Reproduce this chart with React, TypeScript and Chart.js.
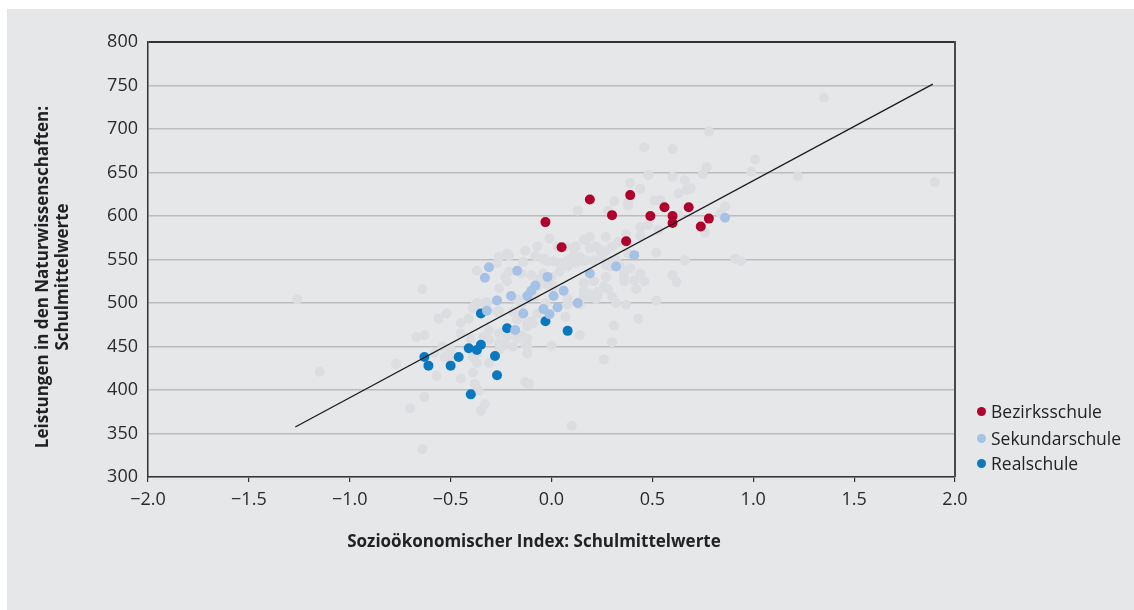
import React, { useEffect, useRef } from "react";
import { Chart, registerables } from "chart.js";

Chart.register(...registerables);

// Axis ranges and tick steps
const xRange = [-2, 2];
const yRange = [300, 800];
const xStep = 0.5;
const yStep = 50;

// Regression line end points
const lineX = [-1.27, 1.89];
const lineY = [357.5, 751.5];

// Bezirksschule
const bezirkX = [-0.03, 0.05, 0.19, 0.3, 0.39, 0.37, 0.49, 0.56, 0.6, 0.6, 0.68, 0.74, 0.78];
const bezirkY = [593, 564, 619, 601, 624, 571, 600, 610, 600, 592, 610, 588, 597];

// Sekundarschule
const sekX = [-0.31, -0.33, -0.17, -0.2, -0.27, -0.12, -0.1, -0.08, -0.02, 0.01, -0.04, -0.01, -0.14, -0.18, 0.03, 0.06, 0.13, 0.19, 0.32, 0.41, 0.86, -0.32];
const sekY = [541, 529, 537, 508, 503, 508, 514, 520, 530, 508, 493, 487, 488, 469, 495, 514, 500, 534, 542, 555, 598, 491];

// Realschule
const realX = [-0.35, -0.22, -0.03, 0.08, -0.63, -0.61, -0.5, -0.46, -0.41, -0.37, -0.35, -0.28, -0.27, -0.4];
const realY = [488, 471, 479, 468, 438, 428, 428, 438, 448, 446, 452, 439, 417, 395];

// All other schools
const otherX = [
  -1.26, -1.15, -0.77, -0.7, -0.63, -0.64, -0.64, -0.67, -0.63, -0.57, -0.45, -0.39, -0.38, -0.36, -0.33, -0.35,
  -0.13, -0.11, 0.1, 0.0, 0.14, 0.26, 0.3, 0.31, 0.43, 0.52, 0.37, 0.42, 0.46, 0.6, 0.62, 0.66, 0.52, 0.91, 0.94,
  0.86, 0.84, 0.76, 0.53, 0.48, 0.44, 0.37, 0.33, 0.27, 0.19, 0.16, 0.13, 0.28, 0.31, 0.38, 0.38, 0.51, 0.54, 0.63,
  0.39, 0.44, 0.48, 0.6, 0.66, 0.63, 0.67, 0.69, 0.75, 0.77, 0.78, 0.46, 0.6, 0.99, 1.01, 1.22, 1.35, 1.9,
  -0.37, -0.27, -0.26, -0.22, -0.21, -0.13, -0.07, -0.01, 0.03, 0.07, 0.11, 0.17, -0.14, -0.08, -0.04, -0.03, 0.01,
  -0.02, 0.04, 0.08, 0.11, 0.14, 0.17, 0.21, 0.25, 0.27, 0.3, 0.22, 0.27, 0.29, 0.36, 0.39, 0.34, 0.36, 0.27, 0.21,
  0.16, 0.26, 0.28, 0.23, 0.19, 0.22, 0.3, 0.32, 0.13, 0.08, 0.14, 0.16, 0.08, 0.07, 0.16, 0.12, 0.16, 0.08, 0.04,
  0.0, -0.07, -0.08, -0.06, -0.04, -0.1, -0.15, -0.21, -0.22, -0.23, -0.26, -0.32, -0.33, -0.37, -0.38, -0.39, -0.26,
  -0.27, -0.17, -0.15, -0.11, -0.12, -0.19, -0.17, -0.12, -0.09, -0.07, -0.03, -0.02, 0.01, -0.41, -0.45, -0.52,
  -0.56, -0.54, -0.53, -0.5, -0.5, -0.58, -0.45, -0.39, -0.37, -0.37, -0.31, -0.26, -0.23, -0.22, -0.18, -0.15,
  -0.12, -0.13, -0.12, -0.12, -0.17, -0.19, -0.31, -0.34, -0.4, -0.26, -0.31, -0.26, -0.1, -0.12, 0.19, 0.23, 0.36,
  0.41, 0.44, 0.19, 0.12, 0.24, 0.38, 0.44, 0.3, 0.32,
];
const otherY = [
  504, 421, 430, 379, 392, 332, 516, 461, 463, 416, 413, 420, 407, 399, 384, 376,
  409, 407, 359, 451, 463, 435, 455, 474, 482, 503, 498, 516, 525, 532, 524, 549, 558, 551, 548,
  611, 603, 581, 584, 590, 587, 579, 570, 576, 576, 573, 606, 606, 617, 616, 612, 618, 618, 601,
  638, 631, 647, 645, 641, 626, 630, 632, 648, 656, 697, 679, 677, 651, 665, 646, 736, 639,
  537, 546, 553, 557, 554, 560, 565, 574, 565, 565, 563, 572, 547, 554, 551, 550, 548,
  548, 546, 549, 555, 553, 549, 549, 553, 560, 565, 565, 544, 542, 538, 540, 542, 530, 530, 525,
  523, 519, 516, 513, 507, 505, 507, 500, 500, 498, 498, 507, 505, 484, 513, 546, 548, 542, 536,
  530, 519, 507, 528, 534, 532, 534, 536, 525, 530, 517, 501, 500, 500, 497, 494, 491,
  490, 504, 498, 511, 507, 490, 481, 477, 477, 488, 500, 521, 519, 482, 477, 488,
  482, 450, 438, 436, 446, 442, 465, 438, 431, 442, 431, 446, 452, 461, 465, 463,
  459, 452, 442, 450, 459, 450, 458, 461, 459, 465, 469, 454, 479, 473, 511, 509, 525,
  526, 577, 563, 565, 561, 557, 534, 548, 549,
];

// Legend entries
const seriesNames = ["Bezirksschule", "Sekundarschule", "Realschule"];
const seriesColors = ["#b0002c", "#a5c1e5", "#0a78bf"];
const otherColor = "#dcdde0";

const xTitle = "Sozioökonomischer Index: Schulmittelwerte";
const yTitle = ["Leistungen in den Naturwissenschaften:", "Schulmittelwerte"];

const FONT = "'Open Sans', 'Noto Sans', sans-serif";

const toPoints = (xs: number[], ys: number[]) => xs.map((x, i) => ({ x, y: ys[i] }));

// Closes the plot box on the right-hand side
const frameRight = {
  id: "frameRight",
  afterDraw(chart: any) {
    const { ctx, chartArea } = chart;
    ctx.save();
    ctx.strokeStyle = "#4a4a4a";
    ctx.lineWidth = 2;
    ctx.beginPath();
    ctx.moveTo(chartArea.right, chartArea.top - 1);
    ctx.lineTo(chartArea.right, chartArea.bottom);
    ctx.stroke();
    ctx.restore();
  },
};

function ScatterChart() {
  const canvasRef = useRef<HTMLCanvasElement | null>(null);

  useEffect(() => {
    if (!canvasRef.current) return;
    const dot = (label: string, color: string, xs: number[], ys: number[]) => ({
      type: "scatter" as const,
      label,
      data: toPoints(xs, ys),
      backgroundColor: color,
      borderColor: color,
      borderWidth: 0,
      pointRadius: 5,
      pointHoverRadius: 5,
    });

    const chart = new Chart(canvasRef.current, {
      type: "scatter",
      data: {
        datasets: [
          {
            type: "line",
            label: "Regression",
            data: toPoints(lineX, lineY),
            borderColor: "#1a1a1a",
            borderWidth: 1.3,
            pointRadius: 0,
            showLine: true,
            fill: false,
          } as any,
          dot(seriesNames[0], seriesColors[0], bezirkX, bezirkY),
          dot(seriesNames[1], seriesColors[1], sekX, sekY),
          dot(seriesNames[2], seriesColors[2], realX, realY),
          dot("Übrige", otherColor, otherX, otherY),
        ],
      },
      options: {
        animation: false,
        responsive: true,
        maintainAspectRatio: false,
        events: [],
        layout: { padding: { left: 0, top: 33, right: 179, bottom: 0 } },
        plugins: {
          legend: { display: false },
          tooltip: { enabled: false },
          title: { display: false },
        },
        scales: {
          x: {
            type: "linear",
            min: xRange[0],
            max: xRange[1],
            afterFit: (scale: any) => {
              scale.height = 133;
            },
            border: { color: "#333", width: 1.5 },
            grid: { drawOnChartArea: false, drawTicks: true, tickLength: 5, color: "#333", lineWidth: 1.2 },
            ticks: {
              stepSize: xStep,
              padding: 7,
              color: "#2a2a2a",
              font: { family: FONT, size: 18 },
              callback: (v: any) => (Number(v) < 0 ? "\u2212" : "") + Math.abs(Number(v)).toFixed(1),
            },
          },
          y: {
            type: "linear",
            min: yRange[0],
            max: yRange[1],
            afterFit: (scale: any) => {
              scale.width = 141;
            },
            border: { color: "#333", width: 1.5 },
            grid: {
              drawTicks: false,
              color: (c: any) => (c.tick && c.tick.value === yRange[1] ? "#333" : "#bcbcbc"),
              lineWidth: (c: any) => (c.tick && c.tick.value === yRange[1] ? 2 : 1.5),
            },
            ticks: {
              stepSize: yStep,
              padding: 10,
              color: "#2a2a2a",
              font: { family: FONT, size: 18 },
            },
          },
        },
      } as any,
      plugins: [frameRight],
    });
    return () => chart.destroy();
  }, []);

  return <canvas ref={canvasRef} />;
}

export default function App() {
  return (
    <div
      style={{
        position: "absolute",
        left: 7,
        top: 9,
        width: 1127,
        height: 601,
        background: "#e6e7e9",
        fontFamily: FONT,
        color: "#222",
      }}
    >
      <div style={{ position: "absolute", left: 0, top: 0, width: 1127, height: 601 }}>
        <ScatterChart />
      </div>
      {/* vertical axis title */}
      <div
        style={{
          position: "absolute",
          left: 45,
          top: 268,
          width: 440,
          transform: "translate(-50%, -50%) rotate(-90deg)",
          textAlign: "center",
          fontWeight: 700,
          fontSize: 17,
          lineHeight: "20px",
          whiteSpace: "nowrap",
        }}
      >
        {yTitle.map((t) => (
          <div key={t}>{t}</div>
        ))}
      </div>
      {/* horizontal axis title */}
      <div
        style={{
          position: "absolute",
          left: 527,
          top: 531,
          transform: "translate(-50%, -50%)",
          fontWeight: 700,
          fontSize: 17,
          whiteSpace: "nowrap",
        }}
      >
        {xTitle}
      </div>
      {/* legend */}
      {seriesNames.map((name, i) => (
        <div
          key={name}
          style={{
            position: "absolute",
            left: 970,
            top: [402, 429, 454][i] - 11,
            height: 22,
            display: "flex",
            alignItems: "center",
            fontSize: 17.5,
            whiteSpace: "nowrap",
          }}
        >
          <span
            style={{
              display: "inline-block",
              width: 9,
              height: 9,
              borderRadius: "50%",
              background: seriesColors[i],
              marginRight: 5,
            }}
          />
          {name}
        </div>
      ))}
    </div>
  );
}
